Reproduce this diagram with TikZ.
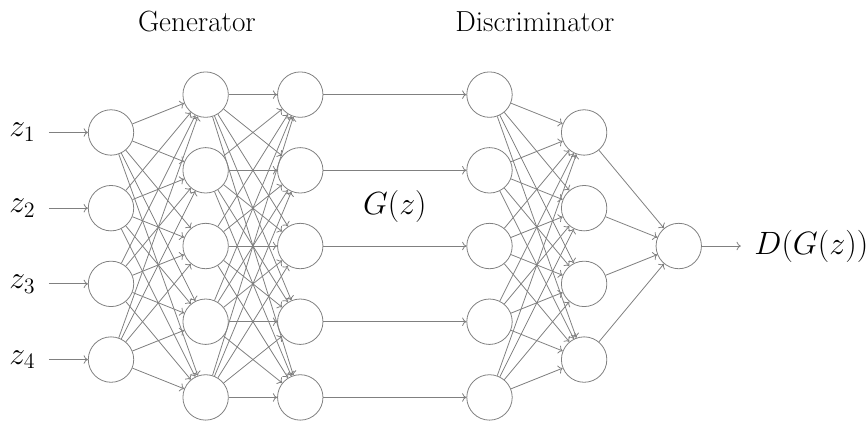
\documentclass[tikz,border=0pt]{standalone}
\usepackage{graphicx}
\usetikzlibrary{arrows.meta}
\begin{document}
\begin{tikzpicture}[
  neuron/.style={circle, draw=gray, line width=0.6pt, minimum size=1.2cm, inner sep=0pt},
  conn/.style={-{To[length=3.2pt, width=6.4pt]}, draw=gray, line width=0.6pt},
  zlbl/.style={font=\huge, inner xsep=10pt},
  mlbl/.style={font=\huge},
  tlbl/.style={font=\huge, inner sep=0pt}
]
\useasboundingbox (-2.933,-4.676) rectangle (20.0,6.5);
% layers
\foreach \i/\y in {1/3,2/1,3/-1,4/-3} {
  \node[neuron] (a\i) at (0,\y) {};
  \node[neuron] (e\i) at (12.5,\y) {};
}
\foreach \i/\y in {1/4,2/2,3/0,4/-2,5/-4} {
  \node[neuron] (b\i) at (2.5,\y) {};
  \node[neuron] (c\i) at (5,\y) {};
  \node[neuron] (d\i) at (10,\y) {};
}
\node[neuron] (o) at (15,0) {};
% input labels
\foreach \i/\y in {1/3,2/1,3/-1,4/-3} {
  \node[zlbl, anchor=east] (z\i) at (-1.64,\y) {\scalebox{1.15}{$z_\i$}};
  \draw[conn] (z\i) -- (a\i);
}
% connections
\foreach \i in {1,...,4} \foreach \j in {1,...,5} \draw[conn] (a\i) -- (b\j);
\foreach \i in {1,...,5} \foreach \j in {1,...,5} \draw[conn] (b\i) -- (c\j);
\foreach \i in {1,...,5} \draw[conn] (c\i) -- (d\i);
\foreach \i in {1,...,5} \foreach \j in {1,...,4} \draw[conn] (d\i) -- (e\j);
\foreach \i in {1,...,4} \draw[conn] (e\i) -- (o);
% labels
\node[mlbl, anchor=west, inner xsep=10pt] (dg) at (16.64,0) {\scalebox{1.17}{$D(G(z))$}};
\draw[conn] (o) -- (dg);
\node[mlbl] (gz) at (7.5,1.05) {\scalebox{1.16}{$G(z)$}};
\node[tlbl, anchor=base] (gen) at (2.27,5.68) {\scalebox{1.06}{Generator}};
\node[tlbl, anchor=base] (dis) at (11.2,5.68) {\scalebox{1.05}{Discriminator}};
\end{tikzpicture}
\end{document}
